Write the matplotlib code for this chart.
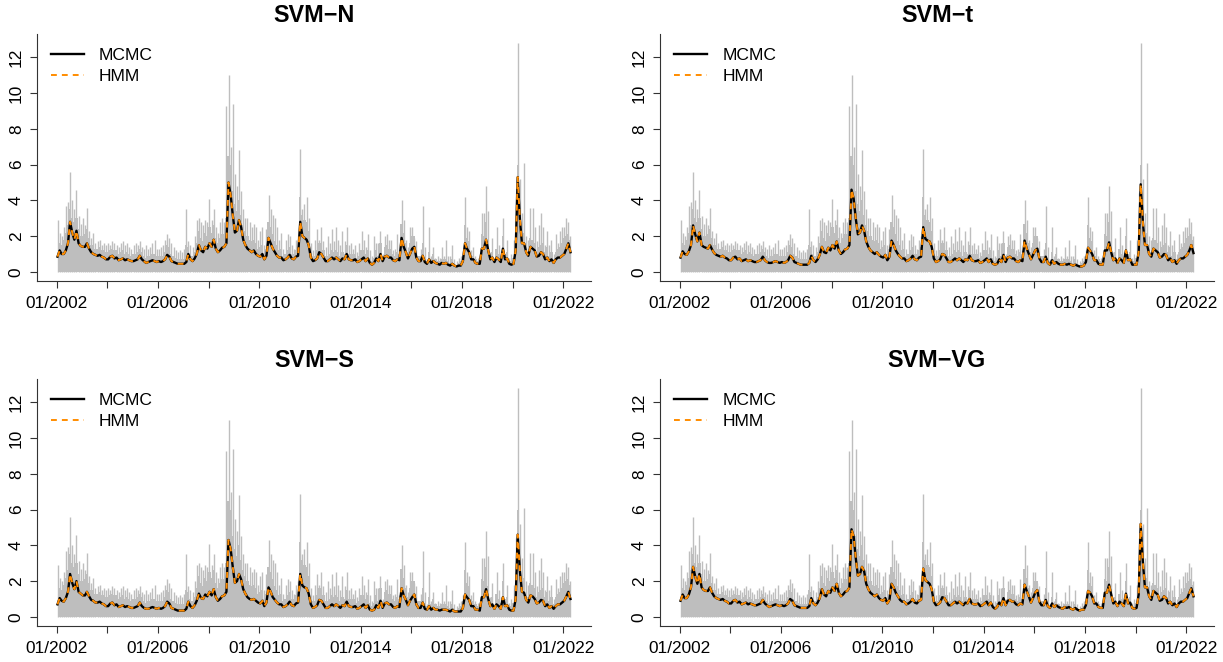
import matplotlib
matplotlib.use("Agg")
import matplotlib.pyplot as plt
import matplotlib.dates as mdates
import numpy as np
import pandas as pd

plt.rcParams['font.family'] = ['Liberation Sans', 'DejaVu Sans']

# ---------------- data ----------------
start_month = "2002-01-01"
panel_titles = ["SVM\u2212N", "SVM\u2212t", "SVM\u2212S", "SVM\u2212VG"]
legend_labels = ["MCMC", "HMM"]
y_ticks = [0, 2, 4, 6, 8, 10, 12]
x_tick_years = [2002, 2004, 2006, 2008, 2010, 2012, 2014, 2016, 2018, 2020, 2022]
x_tick_labels = ["01/2002", "", "01/2006", "", "01/2010", "", "01/2014", "", "01/2018", "", "01/2022"]

# monthly maximum absolute return (gray spikes)
gray_peak = [
    2.9, 2.2, 2.0, 2.5, 3.7, 3.9, 5.6, 4.0, 3.5, 4.6, 3.1, 2.7,
    3.0, 2.6, 3.6, 2.3, 1.9, 2.2, 1.6, 1.7, 1.8, 1.5, 1.6, 1.5,
    1.6, 1.5, 1.7, 1.6, 1.5, 1.4, 1.6, 1.7, 1.5, 1.6, 1.4, 1.3,
    1.5, 1.6, 1.5, 1.7, 1.4, 1.3, 1.5, 1.3, 1.4, 1.6, 1.8, 1.3,
    1.3, 1.4, 1.5, 1.8, 2.1, 1.9, 1.6, 1.4, 1.2, 1.1, 1.2, 1.1,
    1.3, 3.5, 1.7, 1.5, 1.4, 2.0, 2.9, 3.0, 2.8, 2.6, 2.9, 2.8,
    4.1, 2.9, 3.5, 2.5, 2.2, 2.8, 3.0, 2.8, 9.3, 11.0, 7.0, 9.4,
    5.5, 4.8, 6.8, 4.5, 3.5, 3.0, 3.0, 2.8, 2.5, 2.7, 2.5, 1.8,
    2.3, 2.5, 1.5, 2.4, 4.3, 3.5, 3.2, 3.0, 2.5, 1.8, 2.2, 1.3,
    1.8, 2.1, 2.0, 1.5, 1.3, 1.8, 2.0, 6.9, 3.5, 3.8, 4.2, 3.0,
    1.6, 1.2, 1.8, 2.4, 1.8, 2.5, 1.7, 1.4, 2.0, 1.6, 2.4, 1.7,
    2.5, 1.8, 1.5, 2.3, 1.7, 2.5, 1.5, 1.6, 1.3, 1.5, 1.1, 1.6,
    2.3, 1.8, 1.4, 2.1, 1.2, 0.9, 2.0, 1.6, 1.6, 2.3, 1.0, 2.0,
    2.1, 1.8, 1.8, 1.2, 1.3, 2.1, 1.2, 4.0, 2.9, 1.8, 1.4, 2.5,
    2.5, 1.9, 1.7, 0.9, 1.3, 3.7, 1.4, 0.7, 2.5, 0.9, 1.4, 0.8,
    0.9, 0.8, 1.4, 0.9, 1.8, 0.9, 0.9, 1.5, 0.7, 0.6, 0.8, 0.9,
    1.2, 4.2, 2.5, 2.3, 1.2, 1.4, 0.9, 0.8, 0.7, 3.3, 3.3, 4.8,
    3.4, 1.1, 1.9, 0.7, 2.5, 1.5, 1.1, 3.0, 1.0, 1.8, 0.8, 1.0,
    1.8, 4.4, 12.8, 5.2, 3.3, 6.1, 2.0, 1.8, 3.6, 3.6, 2.5, 1.7,
    2.6, 3.3, 2.5, 1.5, 2.3, 1.5, 1.8, 1.0, 2.1, 1.6, 2.3, 2.5,
    2.5, 3.0, 2.8, 2.0,
]

# monthly upper level of the dense body of absolute returns
gray_body = [
    2.0, 1.6, 1.5, 1.8, 2.2, 2.6, 3.5, 3.0, 2.8, 3.0, 2.4, 2.0,
    2.0, 2.1, 2.4, 1.9, 1.5, 1.5, 1.3, 1.3, 1.4, 1.2, 1.2, 1.1,
    1.1, 1.2, 1.3, 1.2, 1.2, 1.0, 1.1, 1.2, 1.0, 1.1, 1.0, 0.9,
    1.0, 1.0, 1.1, 1.3, 1.1, 0.9, 0.8, 0.9, 0.9, 1.0, 1.0, 0.9,
    0.9, 0.9, 0.9, 1.1, 1.5, 1.4, 1.0, 0.9, 0.8, 0.7, 0.7, 0.7,
    0.7, 1.5, 1.4, 1.0, 0.9, 1.1, 1.6, 2.3, 1.9, 1.7, 2.2, 2.0,
    2.5, 2.2, 2.6, 1.9, 1.6, 1.9, 2.1, 2.1, 3.0, 6.5, 6.0, 4.5,
    3.8, 3.4, 4.0, 3.2, 2.6, 2.3, 2.0, 1.8, 1.7, 1.8, 1.6, 1.3,
    1.4, 1.5, 1.0, 1.3, 2.8, 2.5, 2.1, 1.7, 1.5, 1.2, 1.3, 0.9,
    1.0, 1.2, 1.4, 1.0, 1.0, 1.2, 1.4, 4.2, 3.2, 2.9, 2.8, 2.3,
    1.1, 0.9, 0.9, 1.2, 1.6, 1.6, 1.2, 0.9, 0.9, 1.0, 1.2, 1.1,
    1.2, 1.1, 0.9, 1.1, 1.0, 1.5, 1.0, 1.0, 1.0, 1.0, 0.8, 0.9,
    1.2, 1.2, 1.0, 1.2, 0.8, 0.6, 0.8, 1.2, 0.9, 1.6, 0.9, 1.4,
    1.5, 1.3, 1.3, 1.0, 0.9, 1.1, 1.0, 2.7, 2.2, 1.6, 1.1, 1.6,
    2.0, 2.0, 1.2, 0.9, 0.9, 1.6, 0.8, 0.6, 1.1, 0.7, 1.0, 0.7,
    0.6, 0.6, 0.7, 0.7, 0.7, 0.6, 0.5, 0.7, 0.5, 0.4, 0.5, 0.6,
    0.9, 2.6, 1.9, 1.7, 1.0, 0.9, 0.7, 0.6, 0.6, 2.1, 2.0, 2.8,
    1.7, 0.9, 1.1, 0.6, 1.3, 1.0, 0.8, 2.0, 1.0, 1.1, 0.6, 0.6,
    0.8, 2.2, 6.0, 3.8, 2.2, 2.2, 1.3, 1.1, 1.9, 1.8, 1.6, 1.1,
    1.4, 1.5, 1.6, 1.1, 1.4, 0.9, 1.1, 0.7, 1.1, 1.3, 1.4, 1.6,
    1.9, 2.0, 2.1, 1.8,
]

# monthly filtered volatility, one series per model (MCMC and HMM coincide)
vol_svm_n = [
    0.85, 1.2, 1.0, 1.0, 1.2, 1.6, 2.8, 2.2, 1.8, 2.3, 1.6, 1.45,
    1.4, 1.4, 1.6, 1.3, 1.1, 1.0, 0.95, 0.9, 0.95, 0.85, 0.8, 0.7,
    0.7, 0.85, 0.9, 0.75, 0.8, 0.65, 0.7, 0.75, 0.65, 0.7, 0.65, 0.6,
    0.6, 0.65, 0.7, 0.9, 0.7, 0.6, 0.5, 0.55, 0.6, 0.65, 0.6, 0.55,
    0.6, 0.55, 0.6, 0.7, 0.95, 0.85, 0.6, 0.55, 0.5, 0.45, 0.45, 0.45,
    0.45, 0.55, 1.0, 0.7, 0.6, 0.75, 1.0, 1.5, 1.2, 1.1, 1.4, 1.3,
    1.6, 1.4, 1.8, 1.3, 1.1, 1.2, 1.35, 1.4, 1.6, 5.0, 4.3, 3.2,
    2.2, 2.3, 2.9, 2.5, 1.8, 1.5, 1.3, 1.2, 1.1, 1.2, 1.0, 0.9,
    0.85, 1.0, 0.7, 0.9, 1.9, 1.6, 1.3, 1.1, 0.9, 0.8, 0.8, 0.65,
    0.7, 0.8, 0.95, 0.75, 0.7, 0.85, 0.9, 2.8, 2.0, 1.9, 1.8, 1.5,
    0.8, 0.6, 0.65, 0.75, 1.1, 1.0, 0.8, 0.6, 0.6, 0.7, 0.8, 0.7,
    0.8, 0.7, 0.6, 0.75, 0.7, 1.0, 0.7, 0.65, 0.65, 0.7, 0.55, 0.6,
    0.7, 0.8, 0.6, 0.75, 0.5, 0.4, 0.5, 0.75, 0.6, 1.0, 0.6, 0.85,
    0.9, 0.8, 0.8, 0.65, 0.6, 0.7, 0.65, 1.9, 1.4, 1.1, 0.75, 1.0,
    1.3, 1.4, 0.8, 0.6, 0.6, 0.9, 0.55, 0.45, 0.7, 0.5, 0.6, 0.5,
    0.45, 0.4, 0.5, 0.45, 0.5, 0.4, 0.35, 0.45, 0.35, 0.3, 0.35, 0.35,
    0.6, 1.6, 1.3, 1.1, 0.7, 0.7, 0.5, 0.45, 0.45, 1.3, 1.3, 1.8,
    1.2, 0.7, 0.8, 0.55, 0.8, 0.7, 0.55, 1.3, 0.7, 0.75, 0.45, 0.4,
    0.45, 1.2, 5.3, 3.0, 1.6, 1.6, 1.1, 0.9, 1.4, 1.3, 1.2, 0.85,
    0.9, 1.1, 1.0, 0.7, 0.8, 0.6, 0.7, 0.5, 0.7, 0.8, 0.8, 0.9,
    1.0, 1.3, 1.6, 1.1,
]

vol_svm_t = [
    0.8, 1.15, 1.0, 0.95, 1.15, 1.5, 2.6, 2.1, 1.7, 2.2, 1.5, 1.4,
    1.35, 1.3, 1.5, 1.25, 1.05, 0.95, 0.9, 0.85, 0.9, 0.8, 0.75, 0.65,
    0.65, 0.8, 0.85, 0.7, 0.75, 0.6, 0.65, 0.7, 0.6, 0.65, 0.6, 0.55,
    0.55, 0.6, 0.65, 0.85, 0.65, 0.55, 0.5, 0.5, 0.55, 0.6, 0.55, 0.5,
    0.55, 0.5, 0.55, 0.65, 0.9, 0.8, 0.55, 0.5, 0.45, 0.4, 0.4, 0.4,
    0.4, 0.5, 0.9, 0.65, 0.55, 0.7, 0.95, 1.4, 1.1, 1.05, 1.35, 1.2,
    1.5, 1.3, 1.7, 1.2, 1.0, 1.1, 1.25, 1.3, 1.5, 4.6, 4.1, 3.0,
    2.1, 2.2, 2.6, 2.3, 1.7, 1.4, 1.2, 1.1, 1.0, 1.1, 0.95, 0.85,
    0.8, 0.95, 0.65, 0.85, 1.75, 1.5, 1.2, 1.0, 0.85, 0.75, 0.75, 0.6,
    0.65, 0.75, 0.9, 0.7, 0.65, 0.8, 0.85, 2.5, 1.85, 1.75, 1.7, 1.4,
    0.75, 0.55, 0.6, 0.7, 1.0, 0.95, 0.75, 0.55, 0.55, 0.65, 0.75, 0.65,
    0.75, 0.65, 0.55, 0.7, 0.65, 0.9, 0.65, 0.6, 0.6, 0.65, 0.5, 0.55,
    0.65, 0.75, 0.55, 0.7, 0.45, 0.4, 0.45, 0.7, 0.55, 0.95, 0.55, 0.8,
    0.85, 0.75, 0.75, 0.6, 0.55, 0.65, 0.6, 1.75, 1.3, 1.0, 0.7, 0.95,
    1.2, 1.3, 0.75, 0.55, 0.55, 0.85, 0.5, 0.4, 0.65, 0.45, 0.55, 0.45,
    0.4, 0.4, 0.45, 0.4, 0.45, 0.4, 0.35, 0.4, 0.35, 0.3, 0.3, 0.35,
    0.55, 1.35, 1.2, 1.0, 0.65, 0.65, 0.45, 0.4, 0.4, 1.2, 1.2, 1.65,
    1.1, 0.65, 0.75, 0.5, 0.75, 0.65, 0.5, 1.2, 0.65, 0.7, 0.4, 0.4,
    0.4, 1.1, 4.9, 2.8, 1.5, 1.5, 1.0, 0.85, 1.3, 1.2, 1.1, 0.8,
    0.85, 1.0, 0.95, 0.65, 0.75, 0.55, 0.65, 0.45, 0.65, 0.75, 0.75, 0.85,
    0.95, 1.2, 1.5, 1.05,
]

vol_svm_s = [
    0.7, 1.05, 0.9, 0.85, 1.05, 1.4, 2.4, 1.9, 1.55, 2.0, 1.4, 1.3,
    1.2, 1.2, 1.4, 1.15, 0.95, 0.9, 0.8, 0.8, 0.85, 0.75, 0.7, 0.6,
    0.6, 0.75, 0.8, 0.65, 0.7, 0.55, 0.6, 0.65, 0.55, 0.6, 0.55, 0.5,
    0.5, 0.55, 0.6, 0.8, 0.6, 0.5, 0.45, 0.45, 0.5, 0.55, 0.5, 0.45,
    0.5, 0.45, 0.5, 0.6, 0.85, 0.75, 0.5, 0.45, 0.4, 0.35, 0.35, 0.35,
    0.35, 0.45, 0.85, 0.6, 0.5, 0.65, 0.9, 1.3, 1.05, 1.0, 1.25, 1.15,
    1.4, 1.2, 1.55, 1.1, 0.9, 1.0, 1.15, 1.2, 1.4, 4.3, 3.8, 2.8,
    1.9, 2.0, 2.4, 2.1, 1.55, 1.3, 1.1, 1.0, 0.95, 1.0, 0.9, 0.8,
    0.75, 0.9, 0.6, 0.8, 1.65, 1.4, 1.1, 0.95, 0.8, 0.7, 0.7, 0.55,
    0.6, 0.7, 0.85, 0.65, 0.6, 0.75, 0.8, 2.4, 1.75, 1.65, 1.6, 1.3,
    0.7, 0.5, 0.55, 0.65, 0.95, 0.9, 0.7, 0.5, 0.5, 0.6, 0.7, 0.6,
    0.7, 0.6, 0.5, 0.65, 0.6, 0.85, 0.6, 0.55, 0.55, 0.6, 0.45, 0.5,
    0.6, 0.7, 0.5, 0.65, 0.4, 0.35, 0.4, 0.65, 0.5, 0.9, 0.5, 0.75,
    0.8, 0.7, 0.7, 0.55, 0.5, 0.6, 0.55, 1.6, 1.2, 0.95, 0.65, 0.9,
    1.1, 1.25, 0.7, 0.5, 0.5, 0.8, 0.45, 0.4, 0.6, 0.4, 0.5, 0.4,
    0.4, 0.35, 0.4, 0.4, 0.4, 0.35, 0.3, 0.4, 0.3, 0.3, 0.3, 0.3,
    0.5, 1.25, 1.1, 0.95, 0.6, 0.6, 0.4, 0.4, 0.35, 1.1, 1.1, 1.55,
    1.0, 0.6, 0.7, 0.45, 0.7, 0.6, 0.45, 1.1, 0.6, 0.65, 0.4, 0.35,
    0.35, 1.0, 4.6, 2.6, 1.4, 1.35, 0.95, 0.8, 1.2, 1.15, 1.0, 0.75,
    0.8, 0.95, 0.9, 0.6, 0.7, 0.5, 0.6, 0.45, 0.6, 0.7, 0.7, 0.8,
    0.9, 1.15, 1.4, 1.0,
]

vol_svm_vg = [
    0.9, 1.25, 1.05, 1.05, 1.25, 1.65, 2.8, 2.25, 1.85, 2.4, 1.65, 1.5,
    1.45, 1.45, 1.65, 1.35, 1.15, 1.05, 1.0, 0.95, 1.0, 0.9, 0.85, 0.75,
    0.75, 0.9, 0.95, 0.8, 0.85, 0.7, 0.75, 0.8, 0.7, 0.75, 0.7, 0.65,
    0.65, 0.7, 0.75, 0.95, 0.75, 0.65, 0.55, 0.6, 0.65, 0.7, 0.65, 0.6,
    0.65, 0.6, 0.65, 0.75, 1.0, 0.9, 0.65, 0.6, 0.55, 0.5, 0.5, 0.5,
    0.5, 0.6, 1.05, 0.75, 0.65, 0.8, 1.05, 1.55, 1.25, 1.15, 1.45, 1.35,
    1.65, 1.45, 1.85, 1.35, 1.15, 1.25, 1.4, 1.45, 1.65, 4.9, 4.5, 3.3,
    2.3, 2.4, 2.8, 2.55, 1.85, 1.55, 1.35, 1.25, 1.15, 1.25, 1.05, 0.95,
    0.9, 1.05, 0.75, 0.95, 1.85, 1.65, 1.35, 1.15, 0.95, 0.85, 0.85, 0.7,
    0.75, 0.85, 1.0, 0.8, 0.75, 0.9, 0.95, 2.7, 2.05, 1.95, 1.85, 1.55,
    0.85, 0.65, 0.7, 0.8, 1.1, 1.05, 0.85, 0.65, 0.65, 0.75, 0.85, 0.75,
    0.85, 0.75, 0.65, 0.8, 0.75, 1.0, 0.75, 0.7, 0.7, 0.75, 0.6, 0.65,
    0.75, 0.85, 0.65, 0.8, 0.55, 0.45, 0.55, 0.8, 0.65, 1.05, 0.65, 0.9,
    0.95, 0.85, 0.85, 0.7, 0.65, 0.75, 0.7, 1.8, 1.45, 1.15, 0.8, 1.05,
    1.35, 1.5, 0.85, 0.65, 0.65, 0.95, 0.6, 0.5, 0.75, 0.55, 0.65, 0.55,
    0.5, 0.45, 0.55, 0.5, 0.55, 0.45, 0.4, 0.5, 0.4, 0.35, 0.4, 0.4,
    0.65, 1.45, 1.35, 1.15, 0.75, 0.75, 0.55, 0.5, 0.5, 1.35, 1.35, 1.8,
    1.25, 0.75, 0.85, 0.6, 0.85, 0.75, 0.6, 1.3, 0.75, 0.8, 0.5, 0.45,
    0.5, 1.25, 5.2, 3.1, 1.65, 1.65, 1.15, 0.95, 1.45, 1.35, 1.25, 0.9,
    0.95, 1.15, 1.05, 0.75, 0.85, 0.65, 0.75, 0.55, 0.75, 0.85, 0.85, 0.95,
    1.05, 1.35, 1.6, 1.15,
]

vol_series = [vol_svm_n, vol_svm_t, vol_svm_s, vol_svm_vg]

# ---------------- figure ----------------
W, H = 1223, 662
fig = plt.figure(figsize=(W / 100, H / 100), dpi=100)

# axes boxes in pixels: (left, top, right, bottom)
boxes = [(37, 34, 591, 281), (660, 34, 1214, 281),
         (37, 379, 591, 626), (660, 379, 1214, 626)]

n = len(gray_peak)
dates = pd.date_range(start_month, periods=n, freq="MS") + pd.Timedelta(days=14)
xnum = mdates.date2num(dates.to_pydatetime())
tick_pos = mdates.date2num(pd.to_datetime([f"{y}-01-01" for y in x_tick_years]).to_pydatetime())

gray_col = "#BEBEBE"
orange = "#FF8C00"

xr = xnum[-1] - xnum[0]
xlim = (xnum[0] - 0.04 * xr, xnum[-1] + 0.04 * xr)
ymax = max(gray_peak)
ylim = (0 - 0.04 * ymax, ymax + 0.04 * ymax)

for title, vol, (l, t, r, b) in zip(panel_titles, vol_series, boxes):
    ax = fig.add_axes([l / W, (H - b) / H, (r - l) / W, (b - t) / H])
    ax.fill_between(xnum, 0, gray_body, color=gray_col, lw=0, step="mid")
    ax.vlines(xnum, 0, gray_peak, color=gray_col, lw=1.0)
    ax.plot(xnum, vol, color="black", lw=1.7, label=legend_labels[0], solid_joinstyle="round")
    ax.plot(xnum, vol, color=orange, lw=1.4, ls=(0, (3.0, 2.6)), label=legend_labels[1])

    ax.set_xlim(*xlim)
    ax.set_ylim(*ylim)
    for s in ["top", "right"]:
        ax.spines[s].set_visible(False)
    for s in ["left", "bottom"]:
        ax.spines[s].set_linewidth(0.8)
        ax.spines[s].set_color("#333333")

    ax.set_xticks(tick_pos)
    ax.set_xticklabels(x_tick_labels)
    ax.set_yticks(y_ticks)
    ax.set_yticklabels([str(v) for v in y_ticks], rotation=90, va="center")
    ax.tick_params(axis="both", direction="out", length=5, width=0.8,
                   color="#333333", labelsize=12.4)
    ax.tick_params(axis="x", pad=6)
    ax.tick_params(axis="y", pad=4.5)

    ax.set_title(title, fontsize=16.8, fontweight="bold", pad=8.5)

    ax.legend(loc="upper left", bbox_to_anchor=(14 / (r - l), 1 - 14 / (b - t)),
              frameon=False, fontsize=12.6, handlelength=1.9, handletextpad=0.85,
              labelspacing=0.32, borderpad=0, borderaxespad=0)

fig.savefig("out.png", dpi=100)
